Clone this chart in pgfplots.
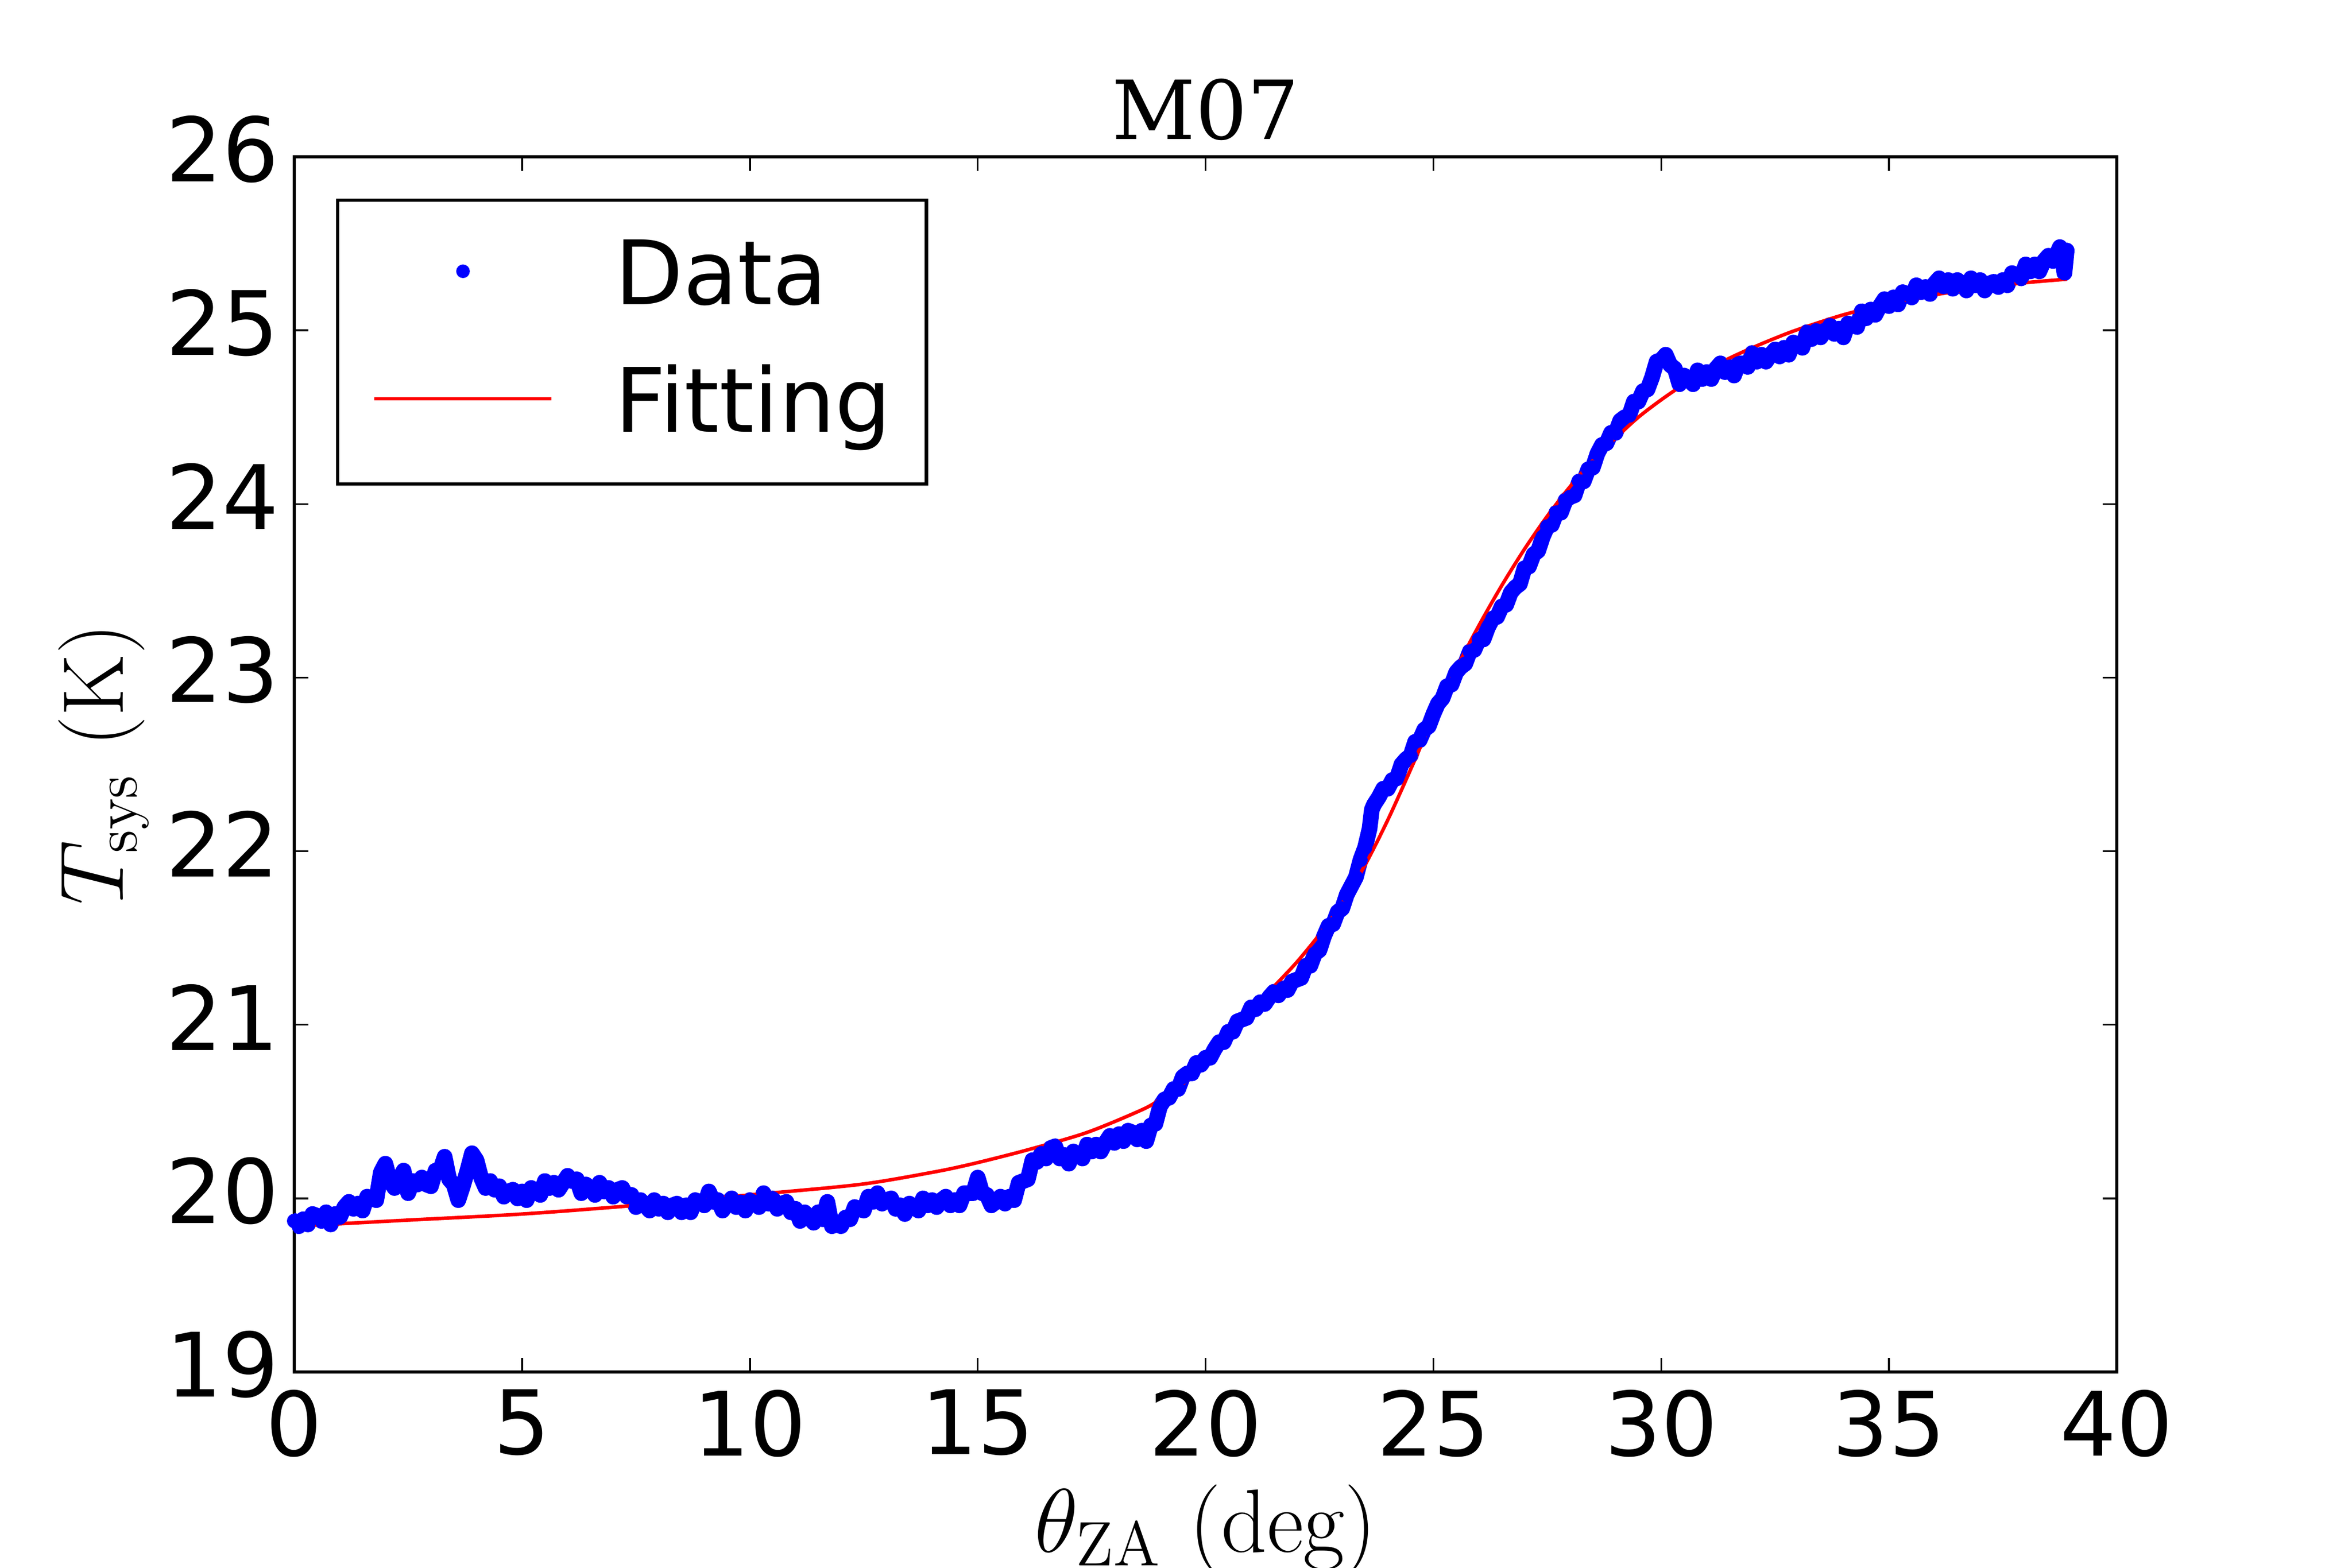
\documentclass[border=0pt]{standalone}
\usepackage{fontspec}
\usepackage{pgfplots}
\usepackage{pgfplotstable}
\pgfplotsset{compat=1.18}
\newfontfamily\dejavu{DejaVu Sans}
\newfontfamily\dejavuserif{DejaVu Serif}

\pgfplotsset{
  datalegend/.style={legend image code/.code={\path[draw=none,fill=none] (0pt,0pt) -- (33.9pt,0pt);
    \path[draw=none,fill=none] plot[only marks, mark=*, mark size=1.2pt, mark options={draw=blue, fill=blue, line width=0.2pt}] coordinates {(16.95pt,1.35pt)};}},
  fitlegend/.style={legend image code/.code={\draw[red, line width=0.67pt] (0pt,1.35pt) -- (33.9pt,1.35pt);}},
}

\pgfplotstableread{
x y
0.0 19.87
0.1 19.84
0.2 19.88
0.3 19.85
0.4 19.91
0.5 19.90
0.6 19.87
0.7 19.92
0.8 19.85
0.9 19.91
1.0 19.89
1.1 19.95
1.2 19.98
1.3 19.94
1.4 19.97
1.5 19.93
1.6 20.01
1.7 20.00
1.8 19.99
1.9 20.15
2.0 20.20
2.1 20.10
2.2 20.06
2.3 20.11
2.4 20.16
2.5 20.03
2.6 20.10
2.7 20.08
2.8 20.12
2.9 20.08
3.0 20.07
3.1 20.16
3.2 20.16
3.3 20.24
3.4 20.11
3.5 20.08
3.6 19.99
3.7 20.07
3.8 20.16
3.9 20.26
4.0 20.22
4.1 20.12
4.2 20.06
4.3 20.10
4.4 20.05
4.5 20.07
4.6 20.01
4.7 20.04
4.8 20.05
4.9 20.00
5.0 20.04
5.1 19.99
5.2 20.06
5.3 20.04
5.4 20.02
5.5 20.10
5.6 20.06
5.7 20.09
5.8 20.05
5.9 20.09
6.0 20.13
6.1 20.10
6.2 20.11
6.3 20.03
6.4 20.08
6.5 20.06
6.6 20.02
6.7 20.09
6.8 20.04
6.9 20.06
7.0 20.01
7.1 20.05
7.2 20.06
7.3 20.01
7.4 20.02
7.5 19.95
7.6 19.99
7.7 19.96
7.8 19.93
7.9 19.99
8.0 19.94
8.1 19.97
8.2 19.92
8.3 19.96
8.4 19.97
8.5 19.92
8.6 19.96
8.7 19.92
8.8 19.99
8.9 19.98
9.0 19.96
9.1 20.04
9.2 19.98
9.3 19.99
9.4 19.93
9.5 19.97
9.6 20.00
9.7 19.95
9.8 19.98
9.9 19.93
10.0 19.99
10.1 19.98
10.2 19.95
10.3 20.03
10.4 19.97
10.5 20.00
10.6 19.94
10.7 19.97
10.8 19.98
10.9 19.92
11.0 19.94
11.1 19.87
11.2 19.92
11.3 19.89
11.4 19.86
11.5 19.92
11.6 19.88
11.7 19.98
11.8 19.84
11.9 19.85
12.0 19.84
12.1 19.89
12.2 19.88
12.3 19.95
12.4 19.94
12.5 19.93
12.6 20.01
12.7 19.98
12.8 20.03
12.9 19.97
13.0 19.99
13.1 20.00
13.2 19.94
13.3 19.96
13.4 19.91
13.5 19.97
13.6 19.95
13.7 19.93
13.8 20.00
13.9 19.96
14.0 19.99
14.1 19.95
14.2 19.99
14.3 20.01
14.4 19.96
14.5 19.99
14.6 19.96
14.7 20.03
14.8 20.03
14.9 20.03
15.0 20.12
15.1 20.03
15.2 20.02
15.3 19.96
15.4 19.98
15.5 20.01
15.6 19.97
15.7 20.01
15.8 19.99
15.9 20.09
16.0 20.10
16.1 20.11
16.2 20.22
16.3 20.21
16.4 20.26
16.5 20.23
16.6 20.29
16.7 20.30
16.8 20.23
16.9 20.25
17.0 20.20
17.1 20.27
17.2 20.25
17.3 20.23
17.4 20.31
17.5 20.27
17.6 20.31
17.7 20.27
17.8 20.32
17.9 20.36
18.0 20.32
18.1 20.37
18.2 20.33
18.3 20.39
18.4 20.38
18.5 20.34
18.6 20.39
18.7 20.33
18.8 20.42
18.9 20.43
19.0 20.53
19.1 20.57
19.2 20.58
19.3 20.63
19.4 20.63
19.5 20.70
19.6 20.72
19.7 20.72
19.8 20.78
19.9 20.77
20.0 20.81
20.1 20.81
20.2 20.86
20.3 20.90
20.4 20.90
20.5 20.96
20.6 20.96
20.7 21.02
20.8 21.03
20.9 21.04
21.0 21.10
21.1 21.09
21.2 21.13
21.3 21.12
21.4 21.16
21.5 21.19
21.6 21.17
21.7 21.21
21.8 21.20
21.9 21.25
22.0 21.26
22.1 21.27
22.2 21.34
22.3 21.34
22.4 21.41
22.5 21.43
22.6 21.51
22.7 21.57
22.8 21.58
22.9 21.65
23.0 21.67
23.1 21.75
23.2 21.80
23.3 21.85
23.4 21.95
23.5 22.02
23.6 22.13
23.65 22.24
23.7 22.27
23.8 22.31
23.9 22.36
24.0 22.36
24.1 22.41
24.2 22.42
24.3 22.50
24.4 22.53
24.5 22.55
24.6 22.63
24.7 22.64
24.8 22.70
24.9 22.72
25.0 22.79
25.1 22.85
25.2 22.88
25.3 22.95
25.4 22.96
25.5 23.03
25.6 23.06
25.7 23.08
25.8 23.15
25.9 23.16
26.0 23.22
26.1 23.22
26.2 23.29
26.3 23.34
26.4 23.35
26.5 23.41
26.6 23.42
26.7 23.49
26.8 23.52
26.9 23.54
27.0 23.63
27.1 23.64
27.2 23.71
27.3 23.73
27.4 23.81
27.5 23.87
27.6 23.88
27.7 23.95
27.8 23.95
27.9 24.02
28.0 24.04
28.1 24.05
28.2 24.13
28.3 24.13
28.4 24.20
28.5 24.21
28.6 24.29
28.7 24.34
28.8 24.35
28.9 24.41
29.0 24.41
29.1 24.48
29.2 24.50
29.3 24.51
29.4 24.59
29.5 24.59
29.6 24.65
29.7 24.66
29.8 24.73
29.9 24.82
30.0 24.83
30.1 24.86
30.2 24.80
30.3 24.78
30.4 24.69
30.5 24.74
30.6 24.72
30.7 24.69
30.8 24.77
30.9 24.72
31.0 24.76
31.1 24.72
31.2 24.78
31.3 24.81
31.4 24.76
31.5 24.79
31.6 24.74
31.7 24.81
31.8 24.81
31.9 24.79
32.0 24.87
32.1 24.82
32.2 24.86
32.3 24.82
32.4 24.86
32.5 24.89
32.6 24.85
32.7 24.90
32.8 24.86
32.9 24.93
33.0 24.92
33.1 24.90
33.2 24.99
33.3 24.95
33.4 25.00
33.5 24.96
33.6 25.00
33.7 25.03
33.8 24.98
33.9 25.01
34.0 24.96
34.1 25.04
34.2 25.03
34.3 25.02
34.4 25.11
34.5 25.07
34.6 25.12
34.7 25.09
34.8 25.14
34.9 25.18
35.0 25.14
35.1 25.19
35.2 25.15
35.3 25.22
35.4 25.21
35.5 25.19
35.6 25.26
35.7 25.22
35.8 25.25
35.9 25.21
36.0 25.27
36.1 25.30
36.2 25.25
36.3 25.29
36.4 25.24
36.5 25.29
36.6 25.27
36.7 25.23
36.8 25.30
36.9 25.26
37.0 25.29
37.1 25.23
37.2 25.27
37.3 25.28
37.4 25.25
37.5 25.29
37.6 25.26
37.7 25.33
37.8 25.32
37.9 25.30
38.0 25.38
38.1 25.34
38.2 25.38
38.3 25.34
38.4 25.40
38.5 25.43
38.6 25.40
38.7 25.45
38.75 25.48
38.8 25.42
38.85 25.33
38.9 25.46
}\datatable

\pgfplotstableread{
x y
0.0 19.84
2.5 19.875
5.0 19.91
7.5 19.96
10.0 20.02
12.4 20.08
14.0 20.15
14.9 20.20
16.1 20.28
17.4 20.38
18.6 20.51
19.0 20.57
19.5 20.66
20.0 20.78
20.5 20.93
21.0 21.08
21.5 21.22
22.0 21.36
22.5 21.52
23.0 21.70
23.5 21.92
24.0 22.18
24.5 22.47
25.0 22.77
25.5 23.05
26.0 23.30
26.5 23.53
27.0 23.74
27.5 23.93
28.0 24.10
28.5 24.25
29.0 24.38
29.5 24.50
30.0 24.60
30.5 24.69
31.0 24.77
31.5 24.84
32.0 24.90
32.5 24.955
33.0 25.005
34.0 25.09
35.0 25.155
36.0 25.205
37.0 25.245
38.0 25.275
38.9 25.295
}\fittable

\begin{document}
\begin{tikzpicture}
\useasboundingbox (-56.3pt,-37.5pt) rectangle (393.7pt,262.5pt);
\begin{axis}[
  at={(0pt,0pt)}, anchor=south west,
  scale only axis, width=348.7pt, height=232.5pt,
  xmin=0, xmax=40, ymin=19, ymax=26,
  xtick={0,5,...,40}, ytick={19,20,...,26},
  minor tick num=0,
  tick pos=both, tick align=inside,
  major tick length=2.7pt,
  every tick/.style={black, line width=0.35pt},
  axis line style={black, line width=0.67pt},
  /pgf/number format/assume math mode=true,
  ticklabel style={font=\fontsize{17}{20}\selectfont\dejavu, inner sep=0pt},
  xticklabel style={anchor=north, yshift=-3.2pt},
  yticklabel style={anchor=east, xshift=-2.7pt, yshift=1.45pt},
  title={M07},
  every axis title/.style={at={(axis description cs:0.5,1.0146)}, anchor=base, inner sep=0pt,
    font=\fontsize{15.6}{19}\selectfont\dejavuserif},
  xlabel={$\theta_{\mathrm{ZA}}$ (deg)},
  every axis x label/.style={at={(axis description cs:0.5,-0.148)}, anchor=base, inner sep=0pt,
    font=\fontsize{17.2}{20}\selectfont},
  ylabel={$T_{\mathrm{sys}}$ (K)},
  every axis y label/.style={at={(axis description cs:-0.0938,0.5)}, rotate=90, anchor=base, inner sep=0pt,
    font=\fontsize{16.5}{20}\selectfont},
  legend cell align=left,
  legend style={at={(axis description cs:0.0238,0.9643)}, anchor=north west,
    draw=black, line width=0.67pt, fill=white, outer sep=0pt,
    inner xsep=6.7pt, inner ysep=7.5pt, row sep=9.5pt, column sep=11.8pt,
    font=\fontsize{17}{20}\selectfont\dejavu,
    nodes={inner sep=0pt, text height=12.4pt, text depth=2.5pt}},
]
\addplot[blue, line width=3pt, line join=round, line cap=round, no marks, forget plot]
  table[x=x, y=y] {\datatable};
\addplot[only marks, mark=*, mark size=1.3pt, color=blue,
  mark options={draw=blue, fill=blue, line width=0.2pt}, datalegend]
  table[x=x, y=y] {\datatable};
\addlegendentry{Data}
\addplot[color=red, line width=0.67pt, no marks, smooth, tension=0.5, fitlegend]
  table[x=x, y=y] {\fittable};
\addlegendentry{Fitting}
\end{axis}
\end{tikzpicture}
\end{document}
